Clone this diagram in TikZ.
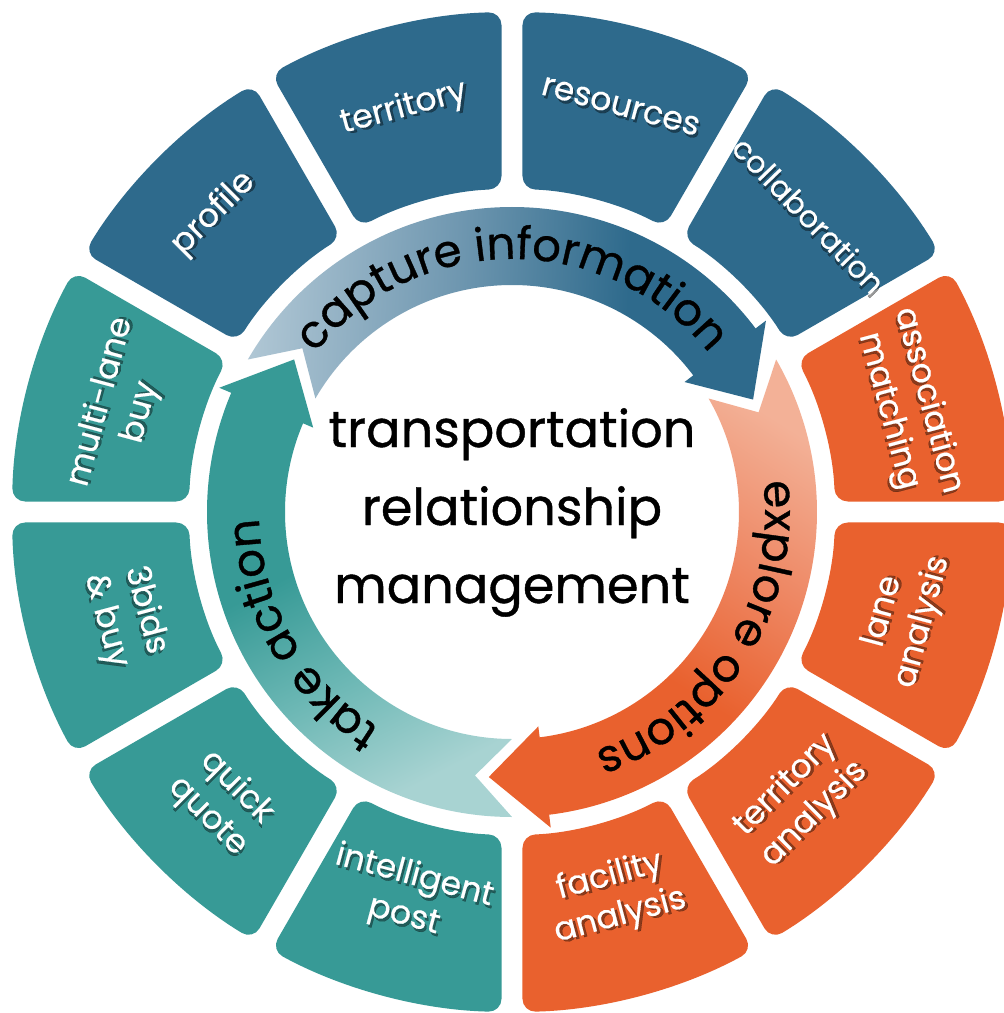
\documentclass[tikz,border=0pt]{standalone}
\usepackage{fontspec}
\setmainfont{Poppins}
\newfontfamily\heavyfam[FakeBold=0.8]{Poppins}
\newfontfamily\lblfam[FakeBold=0.5]{Poppins}
\usetikzlibrary{decorations.text}
\definecolor{segblue}{HTML}{2E6A8C}
\definecolor{segorange}{HTML}{E9612E}
\definecolor{segteal}{HTML}{379A96}
\definecolor{capL}{HTML}{AFC6D4}
\definecolor{capM}{HTML}{6F97B0}
\definecolor{capD}{HTML}{2E6A8C}
\definecolor{expL}{HTML}{F3B197}
\definecolor{expM}{HTML}{EE8763}
\definecolor{expD}{HTML}{E9612E}
\definecolor{takL}{HTML}{A8D3D2}
\definecolor{takM}{HTML}{6DB8B5}
\definecolor{takD}{HTML}{379A96}
\pgfdeclarehorizontalshading{capshade}{100bp}{color(0bp)=(capL); color(25bp)=(capL); color(45bp)=(capM); color(62bp)=(capD); color(100bp)=(capD)}
\pgfdeclarehorizontalshading{expshade}{100bp}{color(0bp)=(expL); color(25bp)=(expL); color(42bp)=(expM); color(58bp)=(expD); color(100bp)=(expD)}
\pgfdeclarehorizontalshading{takshade}{100bp}{color(0bp)=(takL); color(25bp)=(takL); color(40bp)=(takM); color(55bp)=(takD); color(100bp)=(takD)}
\newcommand\lblfont{\lblfam\fontsize{33}{41}\selectfont}
\newcommand\arrfont{\heavyfam\fontsize{45}{50}\selectfont}
\newcommand\ctrfont{\heavyfam\fontsize{51}{60}\selectfont}
\tikzset{
  seglbl/.style={text=white, font=\lblfont, align=center, inner sep=0pt},
  segshadow/.style={text=black, opacity=0.4, font=\lblfont, align=center, inner sep=0pt},
  ctrtext/.style={font=\ctrfont, text=black, anchor=base, inner sep=0pt}
}
% segment: start angle, colour
\newcommand\ringseg[2]{%
  \pgfmathsetmacro\sa{#1+1.203}\pgfmathsetmacro\sb{#1+30-1.203}%
  \pgfmathsetmacro\sc{#1+30-1.863}\pgfmathsetmacro\sd{#1+1.863}%
  \fill[#2, rounded corners=13pt] (\sa:500) arc[start angle=\sa, end angle=\sb, radius=500pt]
    -- (\sc:323) arc[start angle=\sc, end angle=\sd, radius=323pt] -- cycle;}
% label with drop shadow: name, angle, radius, rotation, text
\newcommand\seglabel[5]{%
  \node[segshadow, rotate=#4, xshift=2.5pt, yshift=-2.5pt] (#1s) at (#2:#3) {#5};
  \node[seglbl, rotate=#4] (#1) at (#2:#3) {#5};}
% arrow: tip angle, shading, shading angle
\newcommand\ringarrow[3]{%
  \pgfmathsetmacro\tA{#1}\pgfmathsetmacro\hA{#1+12}%
  \pgfmathsetmacro\TA{#1+125}\pgfmathsetmacro\nA{#1+117}%
  \shade[shading=#2, shading angle=#3] (\TA:305) arc[start angle=\TA, end angle=\hA, radius=305pt]
    -- (\hA:318) -- (\tA:266) -- (\hA:216) -- (\hA:227)
    arc[start angle=\hA, end angle=\TA, radius=227pt] -- (\nA:266) -- cycle;}
% curved text: centre angle, text
\newcommand\arctext[2]{%
  \pgfmathsetmacro\ua{#1+62}\pgfmathsetmacro\ub{#1-62}%
  \path[decorate, decoration={text along path, text align=center, text={|\arrfont|#2}}]
    (\ua:253) arc[start angle=\ua, end angle=\ub, radius=253pt];}
\begin{document}
\begin{tikzpicture}[x=1pt, y=1pt]
\useasboundingbox (-512,-501) rectangle (492,512);
\fill[white] (-512,-501) rectangle (492,512);
\clip (-512,-501) rectangle (492,512);
% outer ring
\foreach \a in {30,60,90,120} {\ringseg{\a}{segblue}}
\foreach \a in {-90,-60,-30,0} {\ringseg{\a}{segorange}}
\foreach \a in {150,180,210,240} {\ringseg{\a}{segteal}}
% labels
\seglabel{profile}{135}{422}{45}{profile}
\seglabel{territory}{105}{418}{15}{territory}
\seglabel{resources}{75}{420}{-15}{resources}
\seglabel{collab}{45}{420}{-46}{\fontsize{30.5}{38}\selectfont collaboration}
\seglabel{assoc}{15}{410}{-75}{association\\matching}
\seglabel{lane}{-15}{405}{75}{lane\\analysis}
\seglabel{terran}{-45}{407}{45}{territory\\analysis}
\seglabel{facil}{-75}{398}{15}{facility\\analysis}
\seglabel{intel}{-105}{398}{-15}{intelligent\\post}
\seglabel{quick}{-135}{410}{-45}{quick\\quote}
\seglabel{bids}{-165}{400}{-75}{3bids\\\& buy}
\seglabel{multi}{165}{405}{75}{multi-lane\\buy}
% inner arrows
\ringarrow{25}{capshade}{-2.6}
\ringarrow{-95}{expshade}{-122.5}
\ringarrow{-215}{takshade}{117.5}
\arctext{90}{capture information}
\arctext{-32}{explore options}
\arctext{210}{take action}
% centre
\node[ctrtext] (c1) at (0,65) {transportation};
\node[ctrtext] (c2) at (0,-13) {relationship};
\node[ctrtext] (c3) at (0,-91) {management};
\end{tikzpicture}
\end{document}
